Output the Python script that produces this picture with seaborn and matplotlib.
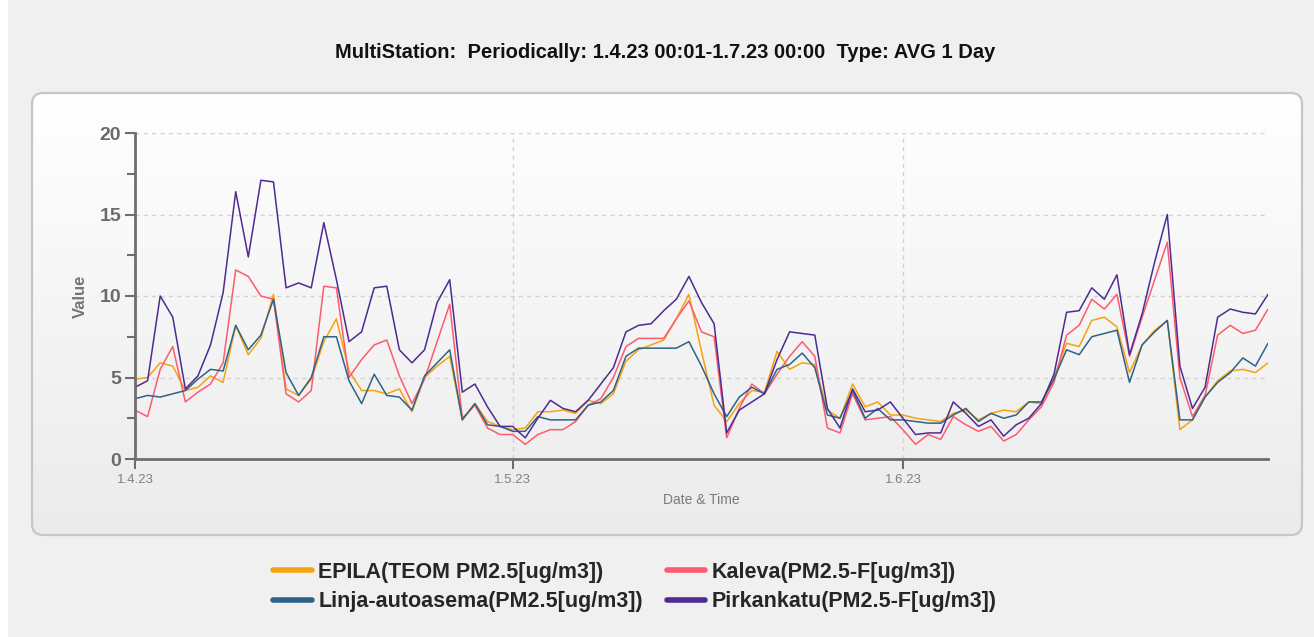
import numpy as np
import pandas as pd
import matplotlib
matplotlib.use("Agg")
import matplotlib.pyplot as plt
from matplotlib.patches import FancyBboxPatch, Rectangle
from matplotlib.lines import Line2D
from matplotlib.colors import LinearSegmentedColormap
import seaborn as sns

# ── Données (moyennes journalières PM2.5) ──
dates = pd.date_range("2023-04-01", "2023-06-30", freq="D")

epila = [4.9, 5.0, 5.9, 5.7, 4.2, 4.4, 5.1, 4.7, 8.2, 6.4,
         7.4, 10.1, 4.3, 3.9, 4.9, 7.2, 8.6, 5.4, 4.2, 4.2,
         4.0, 4.3, 2.9, 5.0, 5.7, 6.3, 2.4, 3.4, 2.3, 2.0,
         1.8, 1.9, 2.9, 2.9, 3.0, 2.8, 3.6, 3.4, 4.0, 6.0,
         6.7, 7.0, 7.3, 8.6, 10.1, 6.6, 3.3, 2.3, 3.4, 4.2,
         4.1, 6.6, 5.5, 5.9, 5.8, 3.0, 2.5, 4.6, 3.2, 3.5,
         2.7, 2.7, 2.5, 2.4, 2.3, 2.8, 3.0, 2.4, 2.8, 3.0,
         2.9, 3.5, 3.4, 5.0, 7.1, 6.9, 8.5, 8.7, 8.1, 5.3,
         7.0, 7.9, 8.5, 1.8, 2.4, 3.8, 4.8, 5.4, 5.5, 5.3,
         5.9]

kaleva = [3.0, 2.6, 5.5, 6.9, 3.5, 4.1, 4.6, 5.9, 11.6, 11.2,
          10.0, 9.8, 4.0, 3.5, 4.2, 10.6, 10.5, 5.0, 6.1, 7.0,
          7.3, 5.1, 3.4, 4.9, 7.2, 9.5, 2.5, 3.3, 1.9, 1.5,
          1.5, 0.9, 1.5, 1.8, 1.8, 2.3, 3.3, 3.7, 5.0, 6.9,
          7.4, 7.4, 7.4, 8.6, 9.7, 7.8, 7.5, 1.3, 3.1, 4.6,
          4.0, 5.2, 6.3, 7.2, 6.3, 1.9, 1.6, 4.0, 2.4, 2.5,
          2.6, 1.8, 0.9, 1.5, 1.2, 2.6, 2.1, 1.7, 2.0, 1.1,
          1.5, 2.4, 3.2, 4.7, 7.6, 8.2, 9.8, 9.2, 10.1, 6.3,
          8.7, 11.0, 13.3, 5.0, 2.6, 3.9, 7.6, 8.2, 7.7, 7.9,
          9.2]

linja = [3.7, 3.9, 3.8, 4.0, 4.2, 4.9, 5.5, 5.4, 8.2, 6.7,
         7.6, 9.8, 5.3, 3.9, 5.0, 7.5, 7.5, 4.8, 3.4, 5.2,
         3.9, 3.8, 3.0, 5.1, 5.9, 6.7, 2.4, 3.4, 2.1, 2.0,
         1.7, 1.7, 2.6, 2.4, 2.4, 2.4, 3.3, 3.5, 4.2, 6.3,
         6.8, 6.8, 6.8, 6.8, 7.2, 5.7, 4.0, 2.6, 3.8, 4.4,
         4.0, 5.5, 5.8, 6.5, 5.6, 2.7, 2.5, 4.2, 2.5, 3.1,
         2.4, 2.4, 2.3, 2.2, 2.2, 2.7, 3.1, 2.3, 2.8, 2.5,
         2.7, 3.5, 3.5, 4.9, 6.7, 6.4, 7.5, 7.7, 7.9, 4.7,
         7.0, 7.8, 8.5, 2.4, 2.4, 3.8, 4.7, 5.3, 6.2, 5.7,
         7.1]

pirkankatu = [4.4, 4.8, 10.0, 8.7, 4.3, 5.1, 7.0, 10.2, 16.4, 12.4,
              17.1, 17.0, 10.5, 10.8, 10.5, 14.5, 11.0, 7.2, 7.8, 10.5,
              10.6, 6.7, 5.9, 6.7, 9.6, 11.0, 4.1, 4.6, 3.2, 2.0,
              2.0, 1.3, 2.5, 3.6, 3.1, 2.9, 3.6, 4.6, 5.6, 7.8,
              8.2, 8.3, 9.1, 9.8, 11.2, 9.6, 8.3, 1.6, 3.0, 3.5,
              4.0, 6.1, 7.8, 7.7, 7.6, 3.1, 1.9, 4.3, 2.9, 3.0,
              3.5, 2.5, 1.5, 1.6, 1.6, 3.5, 2.8, 2.0, 2.4, 1.4,
              2.1, 2.5, 3.4, 5.2, 9.0, 9.1, 10.5, 9.8, 11.3, 6.4,
              8.9, 12.1, 15.0, 5.7, 3.1, 4.4, 8.7, 9.2, 9.0, 8.9,
              10.1]

stations = ["EPILA(TEOM PM2.5[ug/m3])", "Kaleva(PM2.5-F[ug/m3])",
            "Linja-autoasema(PM2.5[ug/m3])", "Pirkankatu(PM2.5-F[ug/m3])"]
colors = ["#F5A30F", "#FF5A6E", "#2F6287", "#4E2B92"]

tick_dates = ["2023-04-01", "2023-05-01", "2023-06-01"]
tick_labels = ["1.4.23", "1.5.23", "1.6.23"]

TITLE = "MultiStation:  Periodically: 1.4.23 00:01-1.7.23 00:00  Type: AVG 1 Day"

df = pd.DataFrame({"date": dates, stations[0]: epila, stations[1]: kaleva,
                   stations[2]: linja, stations[3]: pirkankatu})
long = df.melt(id_vars="date", var_name="station", value_name="value")

# ── Figure ────────────────────────────────────────────────────
sns.set_theme(style="white")
plt.rcParams["font.family"] = ["Liberation Sans", "DejaVu Sans"]

W, H = 1314, 637
fig = plt.figure(figsize=(W / 100, H / 100), dpi=100, facecolor="#f0f0f0")

# panneau arrondi avec dégradé
bg = fig.add_axes([0, 0, 1, 1], zorder=0)
bg.axis("off")
bg.add_patch(Rectangle((0, 0), 8, H, facecolor="white", edgecolor="none"))
panel = FancyBboxPatch((32, 93), 1270, 442,
                       boxstyle="round,pad=0,rounding_size=11",
                       facecolor="none", edgecolor="#c6c6c6", lw=1.6, zorder=3)
bg.add_patch(panel)
cmap = LinearSegmentedColormap.from_list("panel", ["#ffffff", "#ebebeb"])
im = bg.imshow(np.linspace(0, 1, 256).reshape(-1, 1), cmap=cmap,
               extent=(32, 1302, 535, 93), aspect="auto", zorder=1)
im.set_clip_path(panel)
bg.set_xlim(0, W)
bg.set_ylim(H, 0)

ax = fig.add_axes([135 / W, 1 - 459 / H, (1268 - 135) / W, (459 - 133) / H], zorder=1)
ax.set_facecolor("none")

sns.lineplot(data=long, x="date", y="value", hue="station", hue_order=stations,
             palette=colors, linewidth=1.1, legend=False, ax=ax)

ax.set_xlim(dates[0], dates[-1])
ax.set_ylim(0, 20)
ax.set_yticks([0, 5, 10, 15, 20])
ax.set_yticks([2.5, 7.5, 12.5, 17.5], minor=True)
ax.set_xticks(pd.to_datetime(tick_dates))
ax.set_xticklabels(tick_labels)

for s in ["top", "right"]:
    ax.spines[s].set_visible(False)
for s in ["left", "bottom"]:
    ax.spines[s].set_color("#6e6e6e")
    ax.spines[s].set_linewidth(2)

ax.tick_params(axis="y", which="major", left=True, length=7, width=1.5,
               color="#6e6e6e", labelsize=14, labelcolor="#6b6b6b", pad=3)
ax.tick_params(axis="y", which="minor", left=True, length=6, width=1.5,
               color="#6e6e6e")
ax.tick_params(axis="x", bottom=True, length=7, width=1.5, color="#6e6e6e",
               labelsize=9.5, labelcolor="#808080", pad=4)
for lbl in ax.get_yticklabels():
    lbl.set_fontweight("bold")

ax.grid(True, which="major", linestyle=(0, (3, 3)), color="#d2d2d2", linewidth=1)
ax.set_axisbelow(True)

ax.set_ylabel("Value", fontsize=12, fontweight="bold", color="#757575", labelpad=8)
ax.set_xlabel("Date & Time", fontsize=10, color="#7a7a7a", labelpad=5)

fig.text(665 / W, 1 - 53 / H, TITLE, ha="center", va="center",
         fontsize=14.5, fontweight="bold", color="#111111")

# légende : 2 colonnes, remplie colonne par colonne
order = [0, 2, 1, 3]
handles = [Line2D([], [], color=colors[i], lw=4) for i in order]
fig.legend(handles, [stations[i] for i in order], loc="upper left",
           bbox_to_anchor=(273 / W, 1 - 562 / H), ncol=2, frameon=False,
           prop={"weight": "bold", "size": 15.5}, handlelength=1.8,
           handletextpad=0.3, columnspacing=1.1, labelspacing=0.38,
           borderpad=0, borderaxespad=0)

fig.savefig("out.png", dpi=100, facecolor=fig.get_facecolor())
plt.close(fig)
